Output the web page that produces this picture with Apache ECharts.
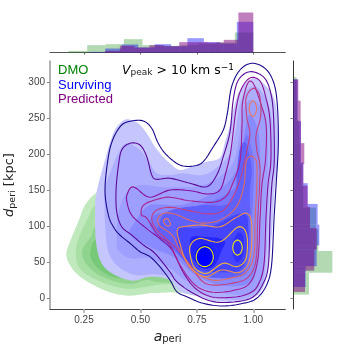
<!DOCTYPE html>
<html>
<head>
<meta charset="utf-8">
<style>
  html, body { margin: 0; padding: 0; background: #fff; }
  #main { width: 344px; height: 344px; }
</style>
<script src="https://cdn.jsdelivr.net/npm/echarts@6/dist/echarts.min.js"></script>
</head>
<body>
<div id="main"></div>
<script>
// tick values
var xTicks = [0.25, 0.5, 0.75, 1.0];
var yTicks = [0, 50, 100, 150, 200, 250, 300];

// marginal histogram, top (a_peri)
var topGreenEdges = [.182,.264,.346,.427,.509,.591,.673,.755,.836,.918,1.0];
var topGreenValues = [5,22,25,40,22,20,22,26,30,60];
var topBlueEdges = [.271,.344,.417,.490,.563,.636,.708,.781,.854,.927,1.0];
var topBlueValues = [2,12,24,15,25,19,43,31,27,92];
var topPurpleEdges = [.343,.409,.474,.540,.606,.672,.737,.803,.869,.934,1.0];
var topPurpleValues = [5,20,15,22,19,31,31,30,38,120];

// marginal histogram, right (d_peri)
var rightGreenEdges = [4.7,34.9,65.2,95.4,125.6,155.9,186.1,216.3,246.5,276.8,307];
var rightGreenValues = [47,117,75,68,30,25,20,18,12,10];
var rightBlueEdges = [15.3,44.2,73,101.9,130.7,159.5,188.4,217.2,246,274.9,303.7];
var rightBlueValues = [37,70,78,73,43,30,23,23,13,13];
var rightPurpleEdges = [8.4,37.9,67.4,97,126.5,156,185.5,215.1,244.6,274.1,303.7];
var rightPurpleValues = [35,63,70,50,43,30,33,23,22,15];

// DMO density levels [a_peri, d_peri]
var dmo1 = [[.2986,144.5],[.2543,129],[.2246,106],[.1879,78.2],[.1715,60.7],[.1879,45.8],[.2322,29.6],[.3062,15.7],[.3797,6.5],[.4537,3.2],[.5423,6.5],[.6309,7.9],[.6973,11.1],[.72,53],[.54,108],[.365,157]];
var dmo2 = [[.303,129],[.2676,111],[.2322,87.5],[.2131,64],[.2322,40.7],[.3062,25],[.3948,15.3],[.467,12.9],[.5733,18],[.6398,19.9],[.697,27.8],[.631,80.6],[.409,136]];
var dmo3 = [[.3075,101],[.2796,84.7],[.2424,66.7],[.2543,50],[.3062,33.8],[.3948,22.2],[.467,19.9],[.5277,25],[.5866,22],[.675,27.8],[.631,80],[.409,115]];
var dmo4 = [[.3075,83],[.2796,66.7],[.284,52.8],[.3208,38.9],[.3784,29.2],[.467,26.4],[.5277,30.6],[.631,33],[.631,80],[.409,94]];

// surviving density levels
var surv1 = [[.306,147.6],[.343,191.7],[.365,215.3],[.387,233.4],[.417,244.9],[.445,248.2],[.490,242.7],[.528,228.8],[.564,210.2],[.600,196.3],[.631,187.1],[.675,177.8],[.734,183.3],[.794,189.3],[.852,194.9],[.875,217.1],[.889,231],[.911,261.1],[.934,284.7],[.971,300.4],[1.008,305.2],[1.052,295.9],[1.089,279.6],[1.106,251.8],[1.11,191.7],[1.096,157],[1.082,87.5],[1.065,41.7],[1.043,13.9],[.999,0],[.927,-5.1],[.821,-4.2],[.764,1.8],[.675,8.8],[.631,25],[.542,29.6],[.468,24],[.387,31.9],[.328,48.2],[.303,78.2],[.299,119.9]];
var surv2 = [[.343,150],[.365,173.2],[.402,201],[.439,214.9],[.498,205.6],[.542,187.1],[.572,173.2],[.631,170.8],[.690,173.2],[.778,170.8],[.852,184.7],[.897,201],[.919,228.8],[.941,270.4],[.971,288.9],[1.015,293.5],[1.059,275],[1.082,247.2],[1.089,191.7],[1.074,157],[1.066,111],[1.059,64.3],[1.044,22.6],[1.0,4.2],[.927,-2.8],[.778,4.2],[.675,18],[.631,29.6],[.557,32.9],[.476,31.9],[.402,43.5],[.358,64.3],[.343,101.4]];
var surv3 = [[.395,80.6],[.401,66.7],[.454,55.1],[.542,55.1],[.631,41.7],[.697,25],[.808,11.1],[.941,4.2],[1.008,11.1],[1.039,32],[1.047,80.6],[1.056,136],[1.065,191.7],[1.061,240.3],[1.030,268],[.985,275],[.954,258.4],[.932,212.5],[.906,184.7],[.844,166.7],[.764,155.6],[.697,154.2],[.586,154.2],[.498,157],[.432,143],[.401,115.3]];
var surv4 = [[.476,105.6],[.454,87.5],[.542,70.8],[.653,55.6],[.742,32],[.852,18],[.963,18],[1.008,32],[1.021,80.6],[1.021,136],[1.030,191.7],[1.021,233.4],[.985,254.2],[.963,233.4],[.941,191.7],[.897,164],[.808,143],[.675,129],[.542,129]];
var surv5 = [[.564,115.3],[.542,101.4],[.586,80.6],[.653,66.7],[.742,45.8],[.830,29.2],[.941,29.2],[.985,45.8],[.994,108.3],[1.003,177.8],[.994,205.6],[.972,226.4],[.950,205.6],[.941,164],[.875,143],[.764,129],[.653,119.5]];
var surv6 = [[.586,105.6],[.578,91.7],[.631,73.6],[.697,50],[.742,36.1],[.830,27.8],[.941,32],[.977,52.8],[.985,108.3],[.985,150],[.994,177.8],[.977,205.6],[.963,216.7],[.941,208.4],[.928,177.8],[.919,143],[.875,129],[.786,129],[.675,125],[.609,118]];
var surv7 = [[.666,97],[.675,66.7],[.742,41.7],[.830,36.1],[.941,38.9],[.977,66.7],[.977,101.4],[.968,115.3],[.919,115.3],[.830,101.4],[.742,97]];
var surv8 = [[.720,80.6],[.729,55.6],[.786,41.7],[.830,45.8],[.861,66.7],[.875,77.8],[.844,83.3],[.786,84.7],[.742,86]];
var surv8b = [[.905,70],[.93,90],[.955,85],[.955,60],[.925,50]];
var surv9 = [[.828,57],[.815,69],[.785,74],[.755,69],[.742,57],[.755,46],[.785,41],[.815,46]];

// predicted contour lines
var pred1 = [[.343,150],[.358,196.3],[.380,221.8],[.417,240.3],[.461,245.9],[.513,245.9],[.550,235.7],[.579,214.9],[.616,198.6],[.675,184.7],[.734,183.3],[.778,189.3],[.823,210.2],[.867,233.4],[.885,256.5],[.904,293.5],[.941,316.7],[.993,326],[1.052,319],[1.089,300.4],[1.106,270.4],[1.111,214.9],[1.101,157],[1.092,110.7],[1.081,45.8],[1.059,18.1],[1.015,-0.4],[.956,-7.4],[.867,-11.1],[.778,-7.4],[.705,1.8],[.661,8.8],[.631,25],[.586,43.5],[.542,57.4],[.498,64.3],[.454,76],[.409,87.5],[.380,99],[.358,115.3]];
var pred2 = [[.392,150],[.402,182.4],[.417,205.6],[.454,214.9],[.498,212.5],[.528,196.3],[.550,170.8],[.572,164.9],[.631,166.3],[.720,159.3],[.794,154.6],[.838,170.8],[.867,196.3],[.897,231],[.911,275],[.934,302.8],[.985,314.3],[1.044,307.4],[1.074,288.9],[1.089,256.5],[1.093,191.7],[1.082,157],[1.074,111],[1.067,45.8],[1.044,20.4],[1.0,1.8],[.927,-5.1],[.823,-5.1],[.734,6.5],[.661,22.6],[.631,36.1],[.564,62.1],[.513,73.6],[.461,87.5],[.417,99],[.395,119.9]];
var pred3 = [[.439,136],[.445,147],[.461,154],[.483,152],[.542,140],[.631,150],[.720,149],[.799,144.5],[.852,150],[.879,175],[.901,205.6],[.923,261],[.945,289],[.985,305.6],[1.030,301.4],[1.056,278],[1.074,247],[1.078,191.7],[1.065,157],[1.056,111],[1.047,45.8],[1.021,18],[.985,7],[.919,1.4],[.817,1.4],[.742,13.9],[.689,36],[.640,66.7],[.586,82.4],[.528,96.3],[.461,115.3]];
var pred4 = [[.505,115],[.506,125],[.528,132],[.586,138],[.631,140],[.720,135],[.821,133],[.875,140],[.906,157],[.941,190],[.950,240],[.952,270],[.975,298],[1.0,298],[1.033,270],[1.057,240],[1.054,191.7],[1.038,157],[1.03,111],[1.02,53],[.985,21],[.919,11],[.821,8],[.742,18],[.675,46],[.631,73.6],[.578,87.5],[.528,111]];
var pred5 = [[.550,111],[.572,122],[.631,126],[.705,122],[.794,117],[.860,120],[.906,138],[.941,164],[.963,191.7],[.972,205.6],[.985,229],[.972,250],[.968,278],[.998,291],[1.025,284],[1.034,264],[1.03,248],[1.012,226],[1.016,205],[1.03,178],[1.02,111],[1.012,53],[.977,29],[.914,21],[.821,18],[.768,25],[.711,50],[.653,71],[.572,95]];
var pred6 = [[.658,116],[.609,118],[.578,111],[.586,100],[.640,87.5],[.675,66.7],[.729,39],[.817,25],[.906,28],[.968,36],[1.003,60],[1.008,108],[1.016,157],[1.016,180],[1.012,191.7],[.990,197],[.968,189],[.959,157],[.928,128],[.864,110],[.786,104],[.720,108]];
var pred6top = [[1.015,263],[1.008,271],[.998,274],[.988,271],[.982,263],[.988,255],[.998,252],[1.008,255]];
var pred6left = [[.603,108],[.62,110],[.633,103],[.625,100],[.61,102]];
var pred7 = [[.668,96.8],[.663,89.9],[.675,76],[.697,55.1],[.742,36.5],[.794,29.6],[.860,38.9],[.941,35.7],[.985,55.1],[.993,101.4],[.971,117.6],[.919,110.7],[.852,99],[.764,101.4],[.690,99]];
var pred8 = [[.722,73.6],[.764,82.8],[.852,78],[.934,98.8],[.971,87.5],[.968,55.1],[.927,43.5],[.867,48.2],[.794,34.3],[.742,41.3],[.722,57.4]];
var pred9 = [[.823,57],[.812,67],[.785,71.3],[.758,67],[.747,57],[.758,47.5],[.785,43.5],[.812,47.5]];
var pred9b = [[.951,70],[.945,77],[.930,80.5],[.915,77],[.909,70],[.915,63],[.930,59.6],[.945,63]];

var green = 'rgba(0,128,0,0.3)';
var blue = 'rgba(0,0,255,0.4)';
var purple = 'rgba(128,0,128,0.5)';
var tickFont = 'Liberation Sans';

// closed catmull-rom through the screen points, so the contours come out round
function roundPath(pts) {
  var out = [], n = pts.length;
  for (var i = 0; i < n; i++) {
    var p0 = pts[(i + n - 1) % n], p1 = pts[i], p2 = pts[(i + 1) % n], p3 = pts[(i + 2) % n];
    for (var k = 0; k < 8; k++) {
      var t = k / 8, t2 = t * t, t3 = t2 * t;
      out.push([
        0.5 * (2 * p1[0] + (p2[0] - p0[0]) * t + (2 * p0[0] - 5 * p1[0] + 4 * p2[0] - p3[0]) * t2 + (3 * p1[0] - p0[0] - 3 * p2[0] + p3[0]) * t3),
        0.5 * (2 * p1[1] + (p2[1] - p0[1]) * t + (2 * p0[1] - 5 * p1[1] + 4 * p2[1] - p3[1]) * t2 + (3 * p1[1] - p0[1] - 3 * p2[1] + p3[1]) * t3)
      ]);
    }
  }
  return out;
}

function contour(pts, fill, stroke) {
  return {
    type: 'custom',
    coordinateSystem: 'cartesian2d',
    xAxisIndex: 0,
    yAxisIndex: 0,
    silent: true,
    clip: false,
    data: pts,
    encode: { x: 0, y: 1 },
    renderItem: function (params, api) {
      if (params.dataIndex !== 0) return null;
      return {
        type: 'polygon',
        shape: { points: roundPath(pts.map(function (p) { return api.coord(p); })) },
        style: { fill: fill || 'none', stroke: stroke || 'none', lineWidth: 1.1 }
      };
    }
  };
}

function topHist(edges, values, color) {
  var rows = values.map(function (v, i) { return [edges[i], edges[i + 1], v]; });
  return {
    type: 'custom', xAxisIndex: 1, yAxisIndex: 1, silent: true,
    data: rows,
    encode: { x: [0, 1], y: 2 },
    renderItem: function (params, api) {
      var a = api.coord([api.value(0), 0]);
      var b = api.coord([api.value(1), api.value(2)]);
      return { type: 'rect', shape: { x: a[0], y: b[1], width: b[0] - a[0], height: a[1] - b[1] }, style: { fill: color } };
    }
  };
}

function rightHist(edges, values, color) {
  var rows = values.map(function (v, i) { return [v, edges[i], edges[i + 1]]; });
  return {
    type: 'custom', xAxisIndex: 2, yAxisIndex: 2, silent: true,
    data: rows,
    encode: { x: 0, y: [1, 2] },
    renderItem: function (params, api) {
      var a = api.coord([0, api.value(1)]);
      var b = api.coord([api.value(0), api.value(2)]);
      return { type: 'rect', shape: { x: a[0], y: b[1], width: b[0] - a[0], height: a[1] - b[1] }, style: { fill: color } };
    }
  };
}

var chart = echarts.init(document.getElementById('main'));

var series = [
  contour(dmo1, '#c1e9be'), contour(dmo2, '#a8dfa5'), contour(dmo3, '#90d38e'), contour(dmo4, '#77c877'),
  contour(surv1, '#c6c6ff'), contour(surv2, '#aeaeff'), contour(surv3, '#9e9eff'), contour(surv4, '#8a8aff'),
  contour(surv5, '#7676ff'), contour(surv6, '#6060ff'), contour(surv7, '#4545ff'), contour(surv8, '#2525ff'),
  contour(surv8b, '#3030ff'), contour(surv9, '#0000ff'),
  contour(pred1, null, '#1a0a8c'), contour(pred2, null, '#5a0a9a'), contour(pred3, null, '#860f9a'),
  contour(pred4, null, '#a5208f'), contour(pred5, null, '#c24080'), contour(pred6, null, '#dd6a68'),
  contour(pred6top, null, '#e8785f'), contour(pred6left, null, '#e8785f'),
  contour(pred7, null, '#f0904a'), contour(pred8, null, '#f5b830'),
  contour(pred9, null, '#eeee10'), contour(pred9b, null, '#eeee10'),
  topHist(topGreenEdges, topGreenValues, green),
  topHist(topBlueEdges, topBlueValues, blue),
  topHist(topPurpleEdges, topPurpleValues, purple),
  rightHist(rightGreenEdges, rightGreenValues, green),
  rightHist(rightBlueEdges, rightBlueValues, blue),
  rightHist(rightPurpleEdges, rightPurpleValues, purple)
];

var xRange = { min: 0.0994, max: 1.1418 };
var yRange = { min: -15.3, max: 329.2 };

chart.setOption({
  animation: false,
  grid: [
    { left: 50, top: 61, width: 235.3, height: 248, outerBoundsMode: 'none' },
    { left: 50, top: 8, width: 235.3, height: 44.5, outerBoundsMode: 'none' },
    { left: 293.3, top: 61, width: 46.7, height: 248, outerBoundsMode: 'none' }
  ],
  xAxis: [
    {
      gridIndex: 0, type: 'value', min: xRange.min, max: xRange.max, splitLine: { show: false },
      axisLine: { onZero: false, lineStyle: { color: '#444', width: 1 } },
      axisTick: { customValues: xTicks, length: 4, lineStyle: { color: '#aaa', width: 1.5 } },
      axisLabel: { customValues: xTicks, color: '#444', fontSize: 10, fontFamily: tickFont, margin: 6, formatter: function (v) { return v.toFixed(2); } },
      name: '{i|a}{s|peri}', nameLocation: 'middle', nameGap: 15,
      nameTextStyle: { rich: {
        i: { fontFamily: 'DejaVu Sans', fontStyle: 'italic', fontSize: 14, color: '#222' },
        s: { fontFamily: 'DejaVu Sans', fontSize: 10, color: '#222', padding: [6, 0, 0, 0] }
      } }
    },
    {
      gridIndex: 1, type: 'value', min: xRange.min, max: xRange.max, splitLine: { show: false },
      axisLine: { onZero: false, lineStyle: { color: '#555', width: 1 } },
      axisTick: { customValues: xTicks, length: 2, lineStyle: { color: '#666' } },
      axisLabel: { show: false }
    },
    { gridIndex: 2, type: 'value', min: 0, max: 140, show: false, splitLine: { show: false } }
  ],
  yAxis: [
    {
      gridIndex: 0, type: 'value', min: yRange.min, max: yRange.max, splitLine: { show: false },
      axisLine: { show: true, onZero: false, lineStyle: { color: '#999', width: 1.5 } },
      axisTick: { show: true, customValues: yTicks, length: 3, lineStyle: { color: '#888' } },
      axisLabel: { customValues: yTicks, color: '#444', fontSize: 10, fontFamily: tickFont, margin: 5 },
      name: '{i|d}{s|peri}{t| [kpc]}', nameLocation: 'middle', nameGap: 26, nameRotate: 90,
      nameTextStyle: { rich: {
        i: { fontFamily: 'DejaVu Sans', fontStyle: 'italic', fontSize: 13, color: '#222' },
        s: { fontFamily: 'DejaVu Sans', fontSize: 9.5, color: '#222', padding: [6, 0, 0, 0] },
        t: { fontFamily: 'DejaVu Sans', fontSize: 13, color: '#222' }
      } }
    },
    { gridIndex: 1, type: 'value', min: 0, max: 133.5, show: false, splitLine: { show: false } },
    {
      gridIndex: 2, type: 'value', min: yRange.min, max: yRange.max, splitLine: { show: false },
      axisLine: { show: true, onZero: false, lineStyle: { color: '#333', width: 1 } },
      axisTick: { show: true, customValues: yTicks, length: 3, lineStyle: { color: '#888' } },
      axisLabel: { show: false }
    }
  ],
  graphic: [
    { type: 'text', left: 58, top: 64, style: { text: 'DMO', fill: '#008000', font: '13px "Liberation Sans"' } },
    { type: 'text', left: 58, top: 78.5, style: { text: 'Surviving', fill: '#0000ff', font: '13px "Liberation Sans"' } },
    { type: 'text', left: 58, top: 93, style: { text: 'Predicted', fill: '#800080', font: '13px "Liberation Sans"' } },
    { type: 'text', left: 122, top: 63, style: {
      text: '{i|V}{s|peak}{t| > 10 km s}{u|\u22121}',
      rich: {
        i: { fontFamily: 'DejaVu Sans', fontStyle: 'italic', fontSize: 12.5, fill: '#000' },
        s: { fontFamily: 'DejaVu Sans', fontSize: 9, fill: '#222', padding: [5, 0, 0, 0] },
        t: { fontFamily: 'DejaVu Sans', fontSize: 12.5, fill: '#000' },
        u: { fontFamily: 'DejaVu Sans', fontSize: 9, fill: '#000', padding: [0, 0, 6, 0] }
      }
    } }
  ],
  series: series
});
</script>
</body>
</html>
